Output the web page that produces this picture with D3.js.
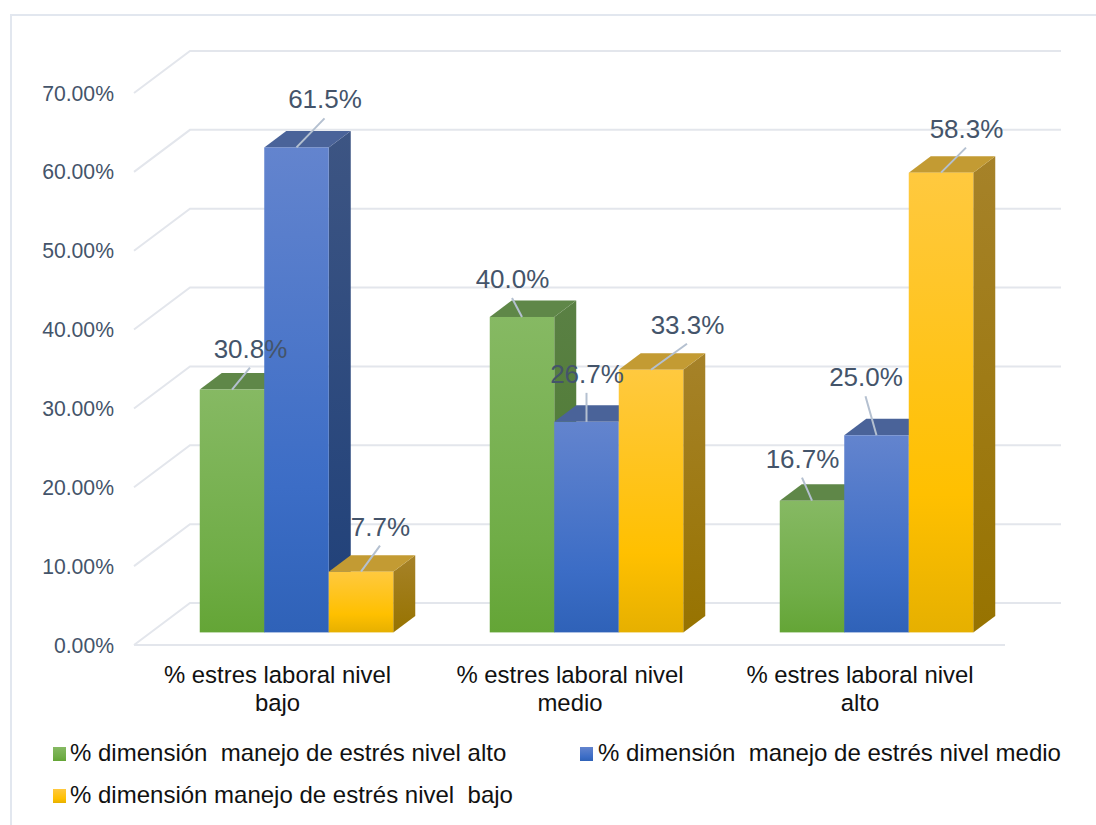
<!DOCTYPE html>
<html><head><meta charset="utf-8">
<script src="https://cdn.jsdelivr.net/npm/d3@7/dist/d3.min.js"></script>
<style>html,body{margin:0;padding:0;background:#fff}svg{display:block}text{font-family:"Liberation Sans",Arial,sans-serif}</style>
</head><body><svg id="c" width="1096" height="825"></svg>
<script>
const categories = [["% estres laboral nivel","bajo"],["% estres laboral nivel","medio"],["% estres laboral nivel","alto"]];
const seriesNames = ["% dimensión  manejo de estrés nivel alto","% dimensión  manejo de estrés nivel medio","% dimensión manejo de estrés nivel  bajo"];
const valuesAlto = [30.8,40.0,16.7];
const valuesMedio = [61.5,26.7,25.0];
const valuesBajo = [7.7,33.3,58.3];
const yTicks = [0,10,20,30,40,50,60,70];
// hand-placed data label offsets from the top of each bar (per category, per series)
const labelShift = [
  [[18,-22],[28,-29],[19,-26]],
  [[-10,-19],[0,-29],[36,-26]],
  [[-10,-23],[-11,-39],[25,-25]]
];
const categoryNudge = [-2.5,0,0];
const seriesColors = [
  {front:["#86b963","#70ad47","#64a536"],top:"#5f8748",side:["#5a8044","#4a7a2c"]},
  {front:["#6384ce","#3c6dc6","#2f62b8"],top:"#4a6399",side:["#3d5583","#1f4079"]},
  {front:["#ffc93f","#ffc000","#e6b000"],top:"#c39b33",side:["#a68229","#977300"]}
];
const svg = d3.select("#c");
const grid="#e3e6ec", ink="#44546a";
svg.append("rect").attr("x",11).attr("y",15).attr("width",1110).attr("height",840).attr("fill","#fff").attr("stroke","#e2e7ef").attr("stroke-width",2);

const y = d3.scaleLinear().domain([0,70]).range([645,93]);
const x = d3.scaleBand().domain(d3.range(categories.length)).range([135,1005]);
const inner = d3.scaleBand().domain(d3.range(3)).range([0,193.5]);
const wallDX=56, wallDY=-42, inDX=16.5, inDY=-12.6, barDX=22, barDY=-16.5;

const defs=svg.append("defs");
seriesColors.forEach((c,i)=>{
  const g=defs.append("linearGradient").attr("id","f"+i).attr("x1",0).attr("x2",0).attr("y1",0).attr("y2",1);
  [[0,c.front[0]],[.7,c.front[1]],[1,c.front[2]]].forEach(s=>g.append("stop").attr("offset",s[0]).attr("stop-color",s[1]));
  const h=defs.append("linearGradient").attr("id","s"+i).attr("x1",0).attr("x2",0).attr("y1",0).attr("y2",1);
  h.append("stop").attr("offset",0).attr("stop-color",c.side[0]);
  h.append("stop").attr("offset",1).attr("stop-color",c.side[1]);
});

// walls
const gridG=svg.append("g").attr("fill","none").attr("stroke",grid).attr("stroke-width",2);
yTicks.forEach(t=>{
  gridG.append("path").attr("d",`M${x.range()[0]-1},${y(t)}L${x.range()[0]-1+wallDX},${y(t)+wallDY}H${x.range()[1]+wallDX}`);
});
gridG.append("path").attr("d",`M${x.range()[0]-1},${y(0)}H${x.range()[1]}`);

svg.append("g").selectAll("text").data(yTicks).join("text")
  .attr("x",114).attr("y",d=>y(d)+7.5).attr("text-anchor","end").attr("font-size",21.2).attr("fill",ink)
  .text(d=>d3.format(".2f")(d)+"%");

// bars
const seriesValues=[valuesAlto,valuesMedio,valuesBajo];
const barW=inner.bandwidth();
const groupLeft=i=>x(i)+(x.bandwidth()-193.5)/2+inDX;
const barsG=svg.append("g");
categories.forEach((_,ci)=>{
  seriesValues.forEach((vals,si)=>{
    const x0=groupLeft(ci)+inner(si), x1=x0+barW, yb=y(0)+inDY, yt=y(vals[ci])+inDY;
    const c=seriesColors[si];
    barsG.append("path").attr("d",`M${x1},${yt}L${x1+barDX},${yt+barDY}V${yb+barDY}L${x1},${yb}Z`).attr("fill",`url(#s${si})`);
    barsG.append("path").attr("d",`M${x0},${yt}L${x0+barDX},${yt+barDY}H${x1+barDX}L${x1},${yt}Z`).attr("fill",c.top);
    barsG.append("rect").attr("x",x0).attr("y",yt).attr("width",barW).attr("height",yb-yt).attr("fill",`url(#f${si})`);
  });
});

// data labels + leaders
const lab=svg.append("g");
categories.forEach((_,ci)=>{
  seriesValues.forEach((vals,si)=>{
    const cx=groupLeft(ci)+inner(si)+barW/2, yt=y(vals[ci])+inDY;
    const [dx,dy]=labelShift[ci][si];
    lab.append("line").attr("x1",cx).attr("y1",yt).attr("x2",cx+dx).attr("y2",yt+dy).attr("stroke","#b4c0d0").attr("stroke-width",2);
    lab.append("text").attr("x",cx+dx+0.5).attr("y",yt+dy-10).attr("text-anchor","middle").attr("font-size",26).attr("fill",ink)
      .text(d3.format(".1f")(vals[ci])+"%");
  });
});

// category labels
const cat=svg.append("g");
categories.forEach((ls,i)=>{
  ls.forEach((l,k)=>cat.append("text").attr("x",x(i)+x.bandwidth()/2+categoryNudge[i]).attr("y",683+k*27.5)
    .attr("text-anchor","middle").attr("font-size",23.9).attr("fill","#111").text(l));
});

// legend
const legendItems=[[53,761],[580,761],[53,803]];
const lg=svg.append("g");
seriesNames.forEach((n,i)=>{
  const [lx,ly]=legendItems[i];
  const g=defs.append("linearGradient").attr("id","lg"+i).attr("x1",0).attr("x2",0).attr("y1",0).attr("y2",1);
  seriesColors[i].front.forEach((c,j)=>g.append("stop").attr("offset",[0,.7,1][j]).attr("stop-color",c));
  lg.append("rect").attr("x",lx).attr("y",ly-14).attr("width",13).attr("height",14).attr("fill",`url(#lg${i})`);
  lg.append("text").attr("x",lx+(i==1?18:17)).attr("y",ly).attr("font-size",24).attr("fill","#111").style("white-space","pre").text(n);
});
</script></body></html>
